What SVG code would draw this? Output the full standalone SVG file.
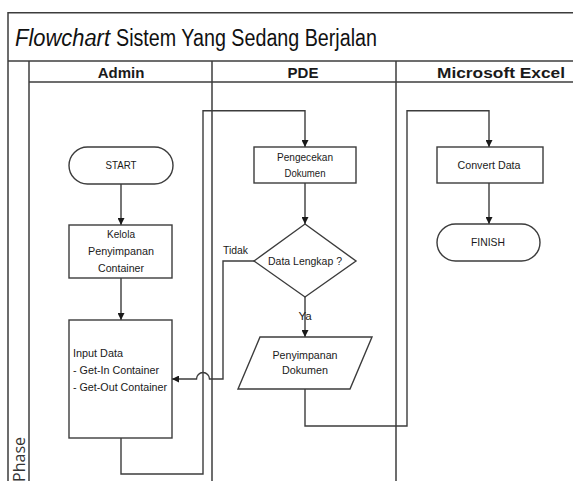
<svg xmlns="http://www.w3.org/2000/svg" width="573" height="481" viewBox="0 0 573 481">
  <style>
    .frame { fill: none; stroke: #3c3c3c; stroke-width: 1.5; }
    .shape { fill: #ffffff; stroke: #3c3c3c; stroke-width: 1.4; }
    .conn { fill: none; stroke: #3c3c3c; stroke-width: 1.4; }
    .t { font-family: "Liberation Sans", Arial, sans-serif; font-size: 11.5px; fill: #1a1a1a; }
    .c { text-anchor: middle; }
    .head { font-family: "Liberation Sans", Arial, sans-serif; font-size: 15px; font-weight: bold; fill: #1a1a1a; text-anchor: middle; }
    .title { font-family: "Liberation Sans", Arial, sans-serif; font-size: 23px; fill: #111111; }
    .phase { font-family: "Open Sans", "Liberation Sans", sans-serif; font-size: 16px; fill: #333333; }
  </style>
  <defs>
    <marker id="arrow" viewBox="0 0 10 10" refX="10" refY="5" markerWidth="7" markerHeight="7" markerUnits="userSpaceOnUse" orient="auto">
      <path d="M0,0 L10,5 L0,10 z" fill="#1a1a1a"/>
    </marker>
  </defs>

  <rect width="573" height="481" fill="#ffffff"/>

  <!-- swimlane frame -->
  <g id="frame">
    <path class="frame" d="M8,481 V12.7 H573"/>
    <path class="frame" d="M8,61 H573"/>
    <path class="frame" d="M29,61 V481"/>
    <path class="frame" d="M29,82 H573"/>
    <path class="frame" d="M212,61 V481"/>
    <path class="frame" d="M396,61 V481"/>
    <text class="title" x="15" y="46" font-style="italic" textLength="95" lengthAdjust="spacingAndGlyphs">Flowchart</text>
    <text class="title" x="116" y="46" textLength="261" lengthAdjust="spacingAndGlyphs">Sistem Yang Sedang Berjalan</text>
    <text class="head" x="121" y="78">Admin</text>
    <text class="head" x="303" y="78">PDE</text>
    <text class="head" x="501" y="78" textLength="128" lengthAdjust="spacingAndGlyphs">Microsoft Excel</text>
    <text class="phase" transform="translate(25,437) rotate(-90)" text-anchor="end">Phase</text>
  </g>

  <!-- connectors -->
  <g id="connectors">
    <path class="conn" d="M121,184 V225" marker-end="url(#arrow)"/>
    <path class="conn" d="M121,278 V320" marker-end="url(#arrow)"/>
    <path class="conn" d="M121,438 V474 H203 V110.7 H305 V147" marker-end="url(#arrow)"/>
    <path class="conn" d="M305,183 V224" marker-end="url(#arrow)"/>
    <path class="conn" d="M305,297 V337" marker-end="url(#arrow)"/>
    <path class="conn" d="M254,261 H223 V379 H209.5 A6.5,6.5 0 0 0 196.5,379 H172" marker-end="url(#arrow)"/>
    <path class="conn" d="M305,389 V426 H407 V110.7 H489 V147" marker-end="url(#arrow)"/>
    <path class="conn" d="M489,183 V224" marker-end="url(#arrow)"/>
    <text class="t" x="223" y="254" textLength="25" lengthAdjust="spacingAndGlyphs">Tidak</text>
    <text class="t c" x="305" y="320">Ya</text>
  </g>

  <g id="start">
    <rect class="shape" x="69" y="147" width="104" height="37" rx="18.5"/>
    <text class="t c" x="121" y="169" textLength="31" lengthAdjust="spacingAndGlyphs">START</text>
  </g>

  <g id="kelola">
    <rect class="shape" x="69" y="225" width="103" height="53"/>
    <text class="t c" x="121" y="238" textLength="28" lengthAdjust="spacingAndGlyphs">Kelola</text>
    <text class="t c" x="121" y="255" textLength="66" lengthAdjust="spacingAndGlyphs">Penyimpanan</text>
    <text class="t c" x="121" y="272" textLength="46" lengthAdjust="spacingAndGlyphs">Container</text>
  </g>

  <g id="input-data">
    <rect class="shape" x="69" y="320" width="103" height="118"/>
    <text class="t" x="73" y="357" textLength="50" lengthAdjust="spacingAndGlyphs">Input Data</text>
    <text class="t" x="73" y="374" textLength="86" lengthAdjust="spacingAndGlyphs">- Get-In Container</text>
    <text class="t" x="73" y="391" textLength="94" lengthAdjust="spacingAndGlyphs">- Get-Out Container</text>
  </g>

  <g id="pengecekan">
    <rect class="shape" x="254" y="147" width="102" height="36"/>
    <text class="t c" x="305" y="161" textLength="56" lengthAdjust="spacingAndGlyphs">Pengecekan</text>
    <text class="t c" x="305" y="177" textLength="41" lengthAdjust="spacingAndGlyphs">Dokumen</text>
  </g>

  <g id="data-lengkap">
    <polygon class="shape" points="305,224 356,261 305,297 254,261"/>
    <text class="t c" x="305" y="265" textLength="74" lengthAdjust="spacingAndGlyphs">Data Lengkap ?</text>
  </g>

  <g id="penyimpanan">
    <polygon class="shape" points="260,337 372,337 350,389 238,389"/>
    <text class="t c" x="305" y="359" textLength="65" lengthAdjust="spacingAndGlyphs">Penyimpanan</text>
    <text class="t c" x="305" y="374" textLength="46" lengthAdjust="spacingAndGlyphs">Dokumen</text>
  </g>

  <g id="convert">
    <rect class="shape" x="437" y="147" width="106" height="36"/>
    <text class="t c" x="489" y="169" textLength="63" lengthAdjust="spacingAndGlyphs">Convert Data</text>
  </g>

  <g id="finish">
    <rect class="shape" x="437" y="224" width="103" height="37" rx="18.5"/>
    <text class="t c" x="488" y="246" textLength="34" lengthAdjust="spacingAndGlyphs">FINISH</text>
  </g>
</svg>
